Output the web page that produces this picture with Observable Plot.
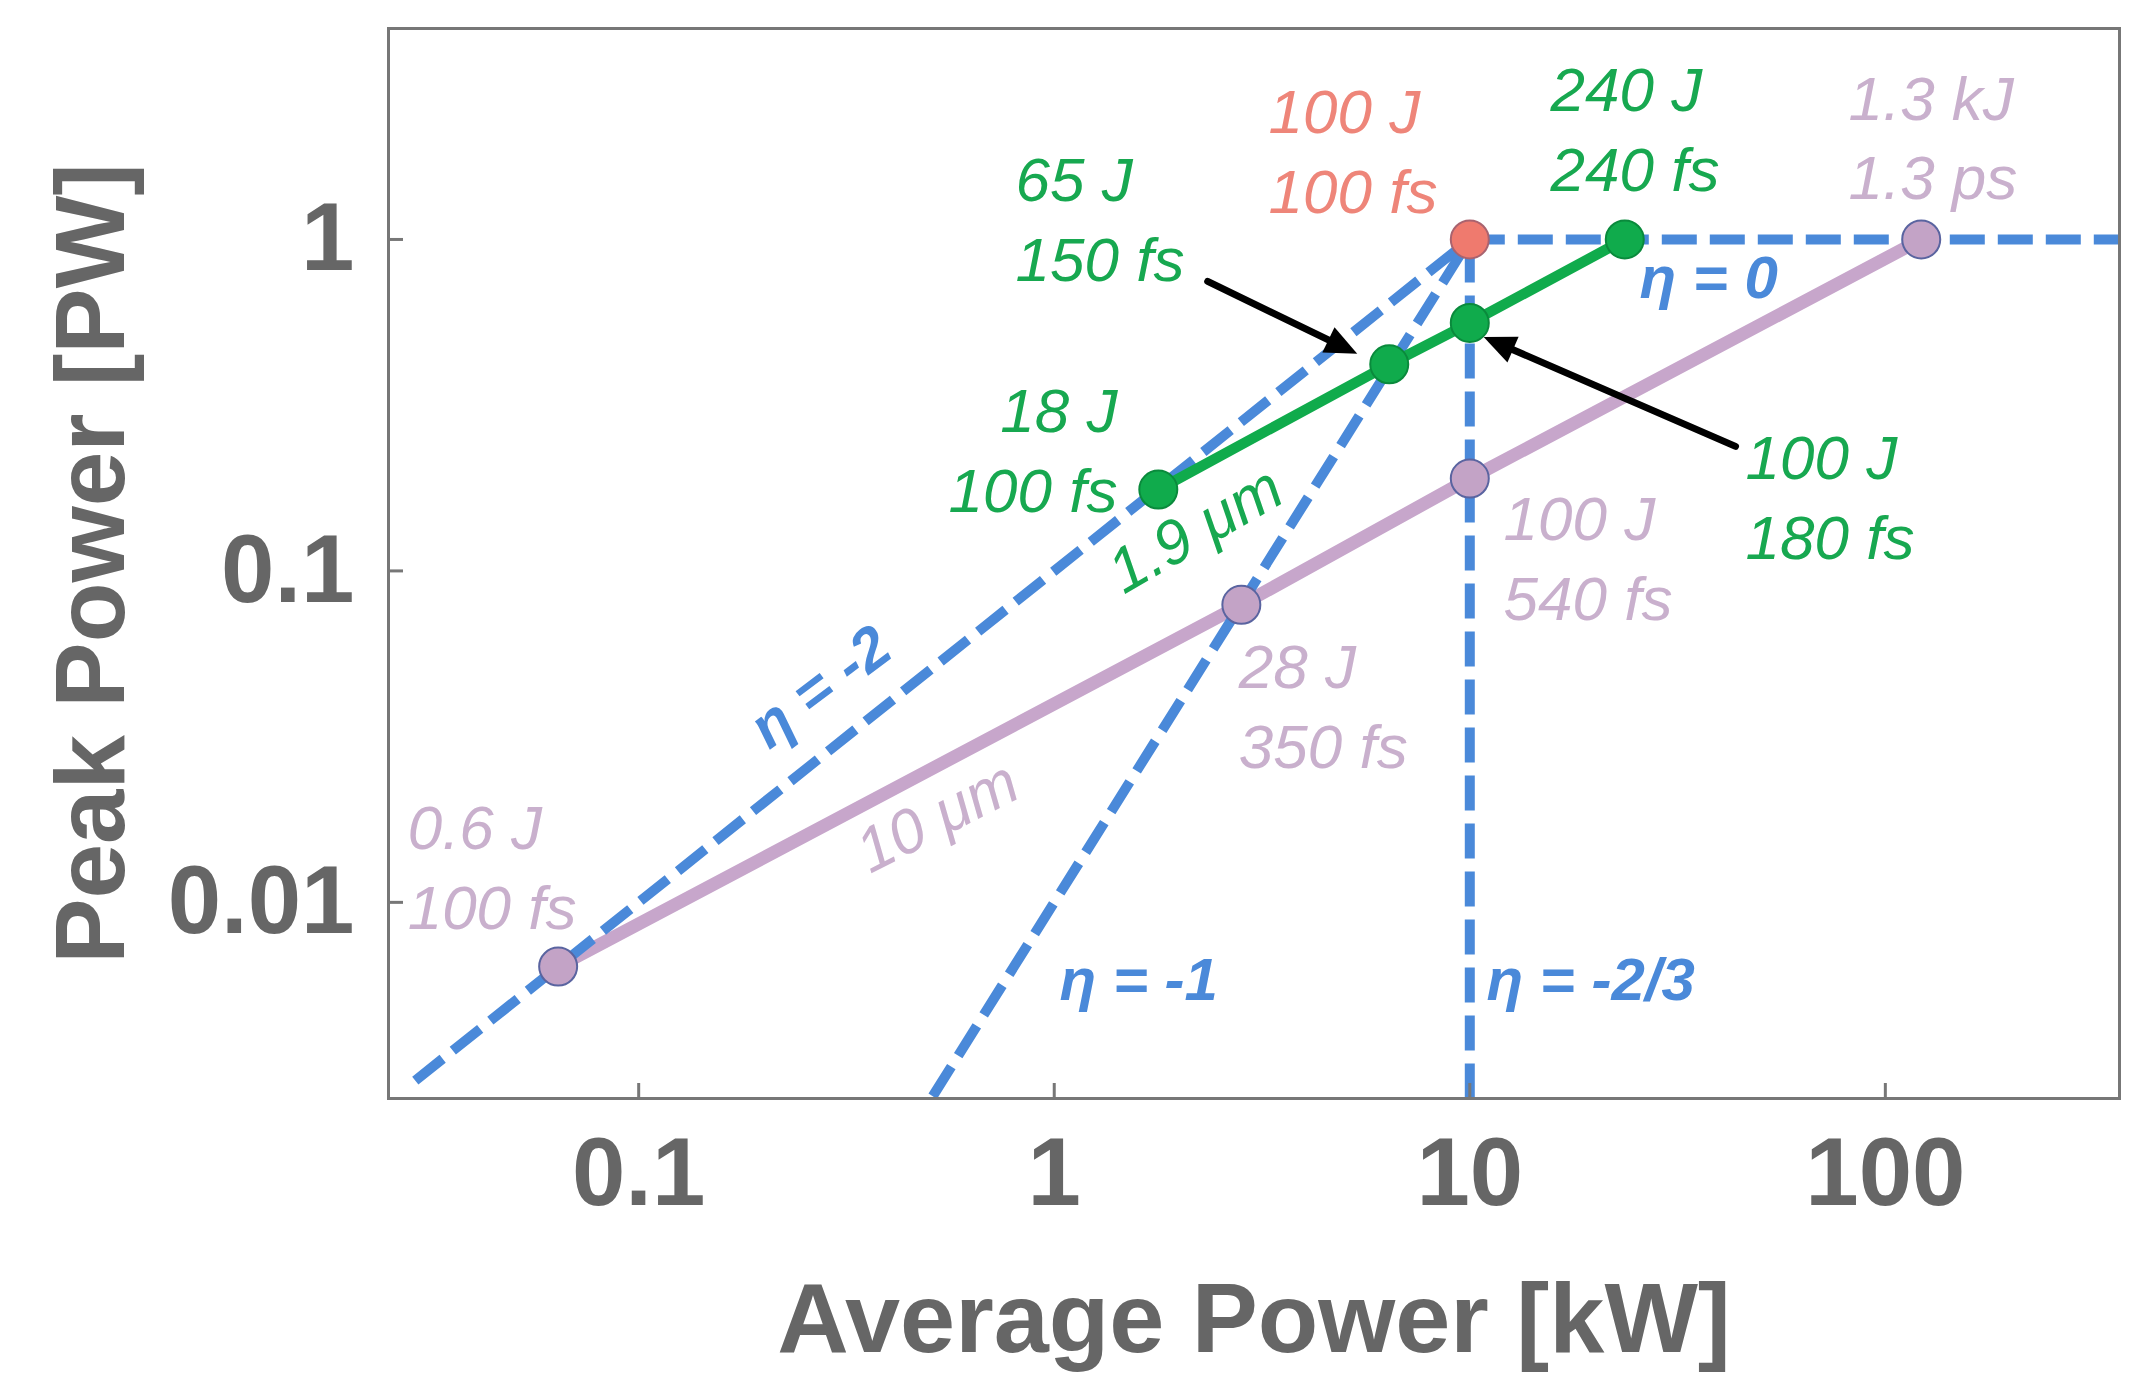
<!DOCTYPE html>
<html><head><meta charset="utf-8">
<script src="https://cdn.jsdelivr.net/npm/d3@7"></script>
<script src="https://cdn.jsdelivr.net/npm/@observablehq/plot@0.6"></script>
<style>html,body{margin:0;padding:0;background:#fff;} svg{display:block}</style>
</head><body><div id="chart"></div>
<script>
// ---- axis ticks & titles
const xTicks = [0.1, 1, 10, 100];
const xTickLabels = ["0.1", "1", "10", "100"];
const yTicks = [0.01, 0.1, 1];
const yTickLabels = ["0.01", "0.1", "1"];
const xTitle = "Average Power [kW]";
const yTitle = "Peak Power [PW]";

// ---- 10 µm series (average power kW, peak power PW)
const purpleX = [0.064, 2.82, 10, 122];
const purpleY = [0.0064, 0.079, 0.19, 1];
const purpleLabels = ["0.6 J\n100 fs", "28 J\n350 fs", "100 J\n540 fs", "1.3 kJ\n1.3 ps"];
const purpleLabelX = [0.0278, 2.78, 12.06, 81.5];
const purpleLabelY = [0.00829, 0.0255, 0.0709, 1.32];

// ---- 1.9 µm series
const greenX = [1.78, 6.4, 10, 23.6];
const greenY = [0.176, 0.42, 0.56, 1];
const greenLabels = ["18 J\n100 fs", "65 J\n150 fs", "100 J\n180 fs", "240 J\n240 fs"];
const greenLabelX = [1.42, 0.807, 46.1, 15.65];
const greenLabelY = [0.151, 0.747, 0.109, 1.405];
const greenLabelAnchor = ["end", "start", "start", "start"];

// ---- reference point
const redX = [10];
const redY = [1];
const redLabels = ["100 J\n100 fs"];
const redLabelX = [3.28];
const redLabelY = [1.206];

// ---- scaling lines
const etaNames = ["η = -2", "η = -1", "η = -2/3", "η = 0"];
const etaX1 = [0.029, 0.51, 10, 10];
const etaY1 = [0.0029, 0.0026, 0.00256, 1];
const etaX2 = [10, 10, 10, 366];
const etaY2 = [1, 1, 1, 1];
const etaLabelX = [0.274, 1.03, 10.97, 25.6];
const etaLabelY = [0.0445, 0.00506, 0.00506, 0.668];

// ---- wavelength labels
const waveNames = ["1.9 μm", "10 μm"];
const waveX = [2.19, 0.524];
const waveY = [0.1325, 0.01805];

// ---- annotation arrows
const arrowX1 = [2.34, 43.6];
const arrowY1 = [0.747, 0.2375];
const arrowX2 = [5.36, 10.8];
const arrowY2 = [0.452, 0.508];

// ---- layout
const W = 2151, H = 1398, ML = 388, MR = 32, MT = 28, MB = 300;
const xDomain = [0.025, 366], yDomain = [0.00256, 4.33];

// build tables
const purple = purpleX.map((x, i) => ({x, y: purpleY[i], label: purpleLabels[i], lx: purpleLabelX[i], ly: purpleLabelY[i]}));
const green = greenX.map((x, i) => ({x, y: greenY[i], label: greenLabels[i], lx: greenLabelX[i], ly: greenLabelY[i], anchor: greenLabelAnchor[i]}));
const red = redX.map((x, i) => ({x, y: redY[i], label: redLabels[i], lx: redLabelX[i], ly: redLabelY[i]}));
const eta = etaNames.map((name, i) => ({name, x1: etaX1[i], y1: etaY1[i], x2: etaX2[i], y2: etaY2[i], lx: etaLabelX[i], ly: etaLabelY[i]}));
// screen-space direction of each arrow (same log mapping as the plot's scales) to orient its head
const sx = d3.scaleLog(xDomain, [ML, W - MR]), sy = d3.scaleLog(yDomain, [H - MB, MT]);
const arrows = arrowX1.map((x1, i) => {
  const a = Math.atan2(sy(arrowY2[i]) - sy(arrowY1[i]), sx(arrowX2[i]) - sx(x1)) * 180 / Math.PI;
  return {x1, y1: arrowY1[i], x2: arrowX2[i], y2: arrowY2[i], rot: a + 90};
});
// filled arrowhead symbol, tip at origin pointing up
const arrowHead = {draw(ctx) { ctx.moveTo(0, 0); ctx.lineTo(-14, 32); ctx.lineTo(14, 32); ctx.closePath(); }};

const BLUE = "#4a89d9", GREEN = "#10ab4c", GREENTXT = "#17a850", PURPLE = "#c7a6cb", PURPLETXT = "#c9b0cd",
      RED = "#ef7a6e", REDTXT = "#ee8579", GRAY = "#666666", FRAME = "#777777";
const labelFont = {fontSize: 62, fontStyle: "italic", lineHeight: 1.29, lineAnchor: "bottom"};

const chart = Plot.plot({
  width: W, height: H,
  marginLeft: ML, marginRight: MR, marginTop: MT, marginBottom: MB,
  style: {fontFamily: "'Liberation Sans', Arial, sans-serif", background: "#fff"},
  x: {type: "log", domain: xDomain, axis: null},
  y: {type: "log", domain: yDomain, axis: null},
  marks: [
    // 10 µm line
    Plot.line(purple, {x: "x", y: "y", stroke: PURPLE, strokeWidth: 13}),
    // scaling lines
    Plot.link(eta, {x1: "x1", y1: "y1", x2: "x2", y2: "y2", stroke: BLUE, strokeWidth: 10, strokeDasharray: "35,13"}),
    // 1.9 µm line
    Plot.line(green, {x: "x", y: "y", stroke: GREEN, strokeWidth: 10.5}),
    // points
    Plot.dot(purple, {x: "x", y: "y", r: 19, fill: "#c3a3c6", stroke: "#5a64a0", strokeWidth: 2}),
    Plot.dot(green, {x: "x", y: "y", r: 19, fill: GREEN, stroke: "#0a8a3c", strokeWidth: 2}),
    Plot.dot(red, {x: "x", y: "y", r: 19, fill: RED, stroke: "#a9636f", strokeWidth: 2}),
    // point labels
    Plot.text(purple, {x: "lx", y: "ly", text: "label", fill: PURPLETXT, textAnchor: "start", ...labelFont}),
    Plot.text(green.filter(d => d.anchor === "start"), {x: "lx", y: "ly", text: "label", fill: GREENTXT, textAnchor: "start", ...labelFont}),
    Plot.text(green.filter(d => d.anchor === "end"), {x: "lx", y: "ly", text: "label", fill: GREENTXT, textAnchor: "end", ...labelFont}),
    Plot.text(red, {x: "lx", y: "ly", text: "label", fill: REDTXT, textAnchor: "start", ...labelFont}),
    // eta labels
    Plot.text(eta.slice(1), {x: "lx", y: "ly", text: "name", fill: BLUE, fontSize: 60, fontWeight: "bold", fontStyle: "italic", textAnchor: "start", lineAnchor: "bottom"}),
    Plot.text(eta.slice(0, 1), {x: "lx", y: "ly", text: "name", fill: BLUE, fontSize: 60, fontWeight: "bold", fontStyle: "italic", textAnchor: "middle", lineAnchor: "middle", rotate: -37}),
    // wavelength labels
    Plot.text([0], {x: () => waveX[0], y: () => waveY[0], text: () => waveNames[0], fill: GREENTXT, fontSize: 62, fontStyle: "italic", textAnchor: "middle", lineAnchor: "middle", rotate: -30}),
    Plot.text([1], {x: () => waveX[1], y: () => waveY[1], text: () => waveNames[1], fill: PURPLETXT, fontSize: 62, fontStyle: "italic", textAnchor: "middle", lineAnchor: "middle", rotate: -27}),
    // arrows: shaft + filled head
    Plot.arrow(arrows, {x1: "x1", y1: "y1", x2: "x2", y2: "y2", stroke: "#000", strokeWidth: 7, headLength: 0, insetEnd: 20}),
    Plot.dot(arrows, {x: "x2", y: "y2", symbol: arrowHead, rotate: "rot", fill: "#000", stroke: null}),
    // frame & ticks
    Plot.frame({stroke: FRAME, strokeWidth: 3}),
    Plot.ruleX(xTicks, {x: d => d, stroke: FRAME, strokeWidth: 3, insetTop: (H - MT - MB) - 15}),
    Plot.ruleY(yTicks, {y: d => d, stroke: FRAME, strokeWidth: 3, insetRight: (W - ML - MR) - 15}),
    Plot.text(xTicks, {x: d => d, frameAnchor: "bottom", dy: 38, text: (d, i) => xTickLabels[i], fontSize: 96, fontWeight: "bold", fill: GRAY, lineAnchor: "top", textAnchor: "middle"}),
    Plot.text(yTicks, {y: d => d, frameAnchor: "left", dx: -34, text: (d, i) => yTickLabels[i], fontSize: 96, fontWeight: "bold", fill: GRAY, lineAnchor: "middle", textAnchor: "end"}),
    // axis titles
    Plot.text([xTitle], {frameAnchor: "bottom", dy: 253, text: d => d, fontSize: 99, fontWeight: "bold", fill: GRAY, lineAnchor: "bottom", textAnchor: "middle"}),
    Plot.text([yTitle], {frameAnchor: "left", dx: -265, text: d => d, fontSize: 98, fontWeight: "bold", fill: GRAY, lineAnchor: "bottom", textAnchor: "middle", rotate: -90})
  ]
});
document.getElementById("chart").appendChild(chart);
</script>
</body></html>
